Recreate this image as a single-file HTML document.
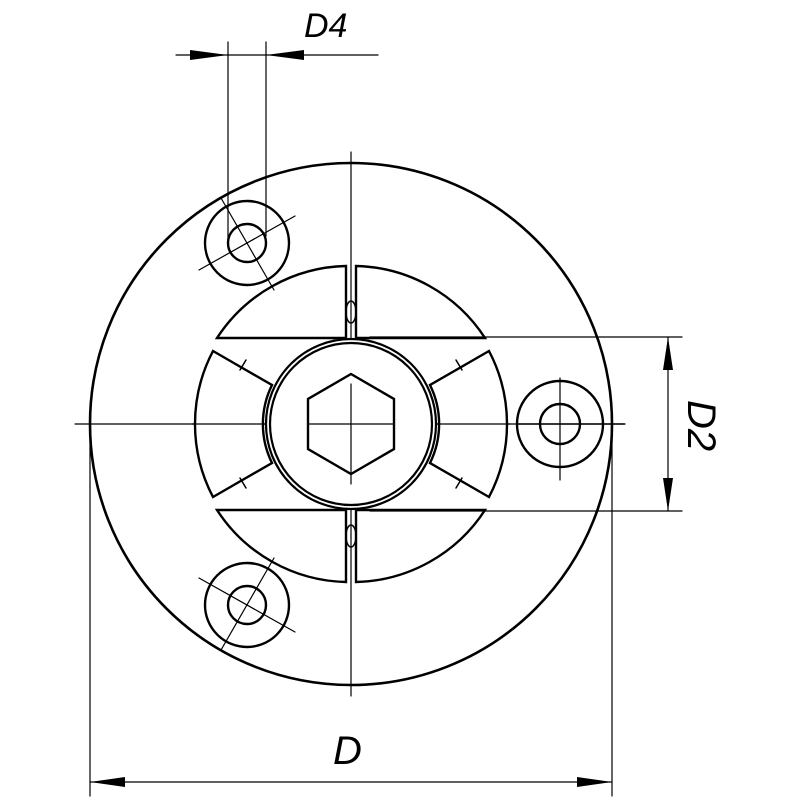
<!DOCTYPE html>
<html><head><style>html,body{margin:0;padding:0;background:#fff}svg{display:block}</style></head>
<body>
<svg width="800" height="800" viewBox="0 0 800 800" xmlns="http://www.w3.org/2000/svg">
<g fill="none" stroke="#000" stroke-linecap="round">
<!-- center lines -->
<g stroke-width="1.2">
<line x1="75" y1="424" x2="625" y2="424"/>
<line x1="351" y1="152" x2="351" y2="696"/>
<line x1="560" y1="378" x2="560" y2="480"/>
<line x1="518" y1="424" x2="625" y2="424"/>
</g>
<!-- main circle -->
<circle cx="351" cy="424" r="261" stroke-width="2.6"/>
<!-- segments -->
<g stroke-width="2.4" fill="#fff">
<path d="M356,266 A158 158 0 0 1 485,338 L356,338 Z"/>
<path d="M346,266 A158 158 0 0 0 217,338 L346,338 Z"/>
<path d="M356,582 A158 158 0 0 0 485,510 L356,510 Z"/>
<path d="M346,582 A158 158 0 0 1 217,510 L346,510 Z"/>
<path d="M489,351 A157 157 0 0 1 489,497 L430,463 A88 88 0 0 0 430,385 Z"/>
<path d="M213,351 A157 157 0 0 0 213,497 L272,463 A88 88 0 0 1 272,385 Z"/>
</g>
<g stroke-width="1.2">
<line x1="192" y1="424" x2="510" y2="424"/>
<line x1="351" y1="375" x2="351" y2="474"/>
</g>
<!-- slot details -->
<g stroke-width="1.5">
<ellipse cx="351" cy="312" rx="5" ry="11"/>
<ellipse cx="351" cy="536" rx="5" ry="11"/>
<line x1="246" y1="360" x2="240" y2="370"/>
<line x1="456" y1="360" x2="462" y2="370"/>
<line x1="246" y1="488" x2="240" y2="478"/>
<line x1="456" y1="488" x2="462" y2="478"/>
<line x1="343" y1="339" x2="359" y2="339"/>
</g>
<!-- hub -->
<circle cx="351" cy="424" r="85" stroke-width="2.2" fill="#fff"/>
<circle cx="351" cy="424" r="81" stroke-width="2.2"/>
<polygon points="351,374 394,399 394,449 351,474 308,449 308,399" stroke-width="2.4"/>
<g stroke-width="1.2">
<line x1="351" y1="384" x2="351" y2="484"/>
<line x1="308" y1="424" x2="394" y2="424"/>
</g>
<!-- holes -->
<g stroke-width="2.4">
<circle cx="247" cy="243" r="42"/><circle cx="247" cy="243" r="19"/>
<circle cx="560" cy="424" r="43"/><circle cx="560" cy="424" r="20"/>
<circle cx="247" cy="605" r="42"/><circle cx="247" cy="605" r="19"/>
</g>
<g stroke-width="1.2">
<line x1="221" y1="198" x2="274" y2="290"/>
<line x1="199" y1="270" x2="295" y2="216"/>
<line x1="221" y1="650" x2="274" y2="558"/>
<line x1="199" y1="578" x2="295" y2="632"/>
<line x1="518" y1="424" x2="624" y2="424"/>
<!-- D4 -->
<line x1="228" y1="42" x2="228" y2="240"/>
<line x1="266" y1="42" x2="266" y2="236"/>
<line x1="176" y1="55" x2="378" y2="55"/>
<!-- D2 -->
<line x1="370" y1="337" x2="682" y2="337"/>
<line x1="370" y1="511" x2="682" y2="511"/>
<line x1="668" y1="337" x2="668" y2="511"/>
<!-- D -->
<line x1="90" y1="424" x2="90" y2="796"/>
<line x1="612" y1="424" x2="612" y2="796"/>
<line x1="90" y1="782" x2="612" y2="782"/>
</g>
</g>
<g fill="#000">
<polygon points="228,55 190,50 190,60"/>
<polygon points="266,55 304,50 304,60"/>
<polygon points="668,337 663,370 673,370"/>
<polygon points="668,511 663,478 673,478"/>
<polygon points="90,782 125,777 125,787"/>
<polygon points="612,782 577,777 577,787"/>
</g>
<g font-family="Liberation Sans, sans-serif" font-style="italic" fill="#000">
<text x="304" y="37" font-size="34">D4</text>
<text x="333" y="764" font-size="40">D</text>
<text x="0" y="0" font-size="40" transform="translate(688,400) rotate(90)">D2</text>
</g>
</svg>
</body></html>
